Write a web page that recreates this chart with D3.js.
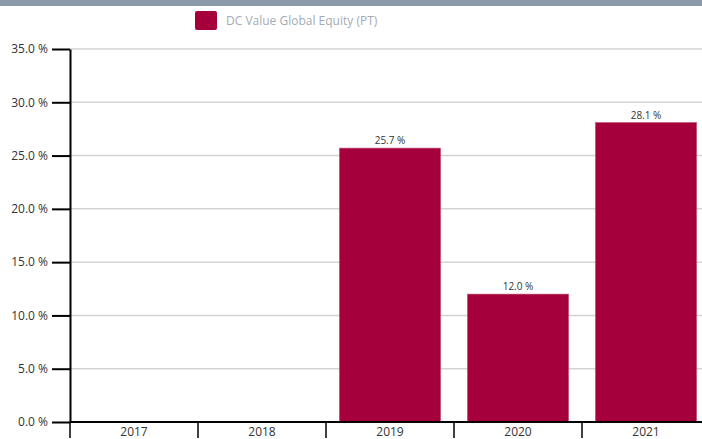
<!DOCTYPE html>
<html>
<head>
<meta charset="utf-8">
<script src="https://cdn.jsdelivr.net/npm/d3@7"></script>
<style>
  body { margin: 0; background: #fff; font-family: "Open Sans", sans-serif; }
</style>
</head>
<body>
<div id="chart"></div>
<script>
// Annual returns for one fund, bar per year
const years = ["2017", "2018", "2019", "2020", "2021"];
const returns = [null, null, 25.7, 12.0, 28.1];
const yTicks = [0, 5, 10, 15, 20, 25, 30, 35];
const seriesName = "DC Value Global Equity (PT)";

const width = 702;
const height = 439;
const margin = { top: 49, right: -8, bottom: 16, left: 70 };
const barColor = "#a5003b";

const svg = d3.select("#chart")
  .append("svg")
  .attr("width", width)
  .attr("height", height);

// grey strip along the top
svg.append("rect")
  .attr("x", 0).attr("y", 0)
  .attr("width", width).attr("height", 6)
  .attr("fill", "#8a9aa8");

// legend
const legend = svg.append("g").attr("transform", "translate(195,11)");
legend.append("rect")
  .attr("width", 22).attr("height", 19)
  .attr("rx", 2)
  .attr("fill", barColor);
legend.append("text")
  .attr("x", 31).attr("y", 14)
  .style("font-size", "12px")
  .attr("fill", "#a3acb5")
  .text(seriesName);

const innerW = width - margin.left - margin.right;
const innerH = height - margin.top - margin.bottom - 1;
const g = svg.append("g").attr("transform", `translate(${margin.left},${margin.top})`);

const x = d3.scaleBand()
  .domain(years)
  .range([0, innerW])
  .paddingInner(0.21)
  .paddingOuter(0.105);

const y = d3.scaleLinear()
  .domain([0, 35])
  .range([innerH, 0]);

// gridlines
g.selectAll(".grid")
  .data(yTicks.filter(t => t > 0))
  .join("line")
  .attr("x1", 0).attr("x2", innerW)
  .attr("y1", d => y(d)).attr("y2", d => y(d))
  .attr("stroke", "#d4d4d4")
  .attr("stroke-width", 1.5);

// bars
const data = years.map((yr, i) => ({ year: yr, value: returns[i] })).filter(d => d.value != null);
g.selectAll(".bar")
  .data(data)
  .join("rect")
  .attr("x", d => x(d.year))
  .attr("y", d => y(d.value))
  .attr("width", x.bandwidth())
  .attr("height", d => innerH - y(d.value))
  .attr("fill", barColor)
  .attr("stroke", "#c04a72")
  .attr("stroke-width", 0.6);

// value labels
g.selectAll(".value")
  .data(data)
  .join("text")
  .attr("x", d => x(d.year) + x.bandwidth() / 2)
  .attr("y", d => y(d.value) - 4)
  .attr("text-anchor", "middle")
  .style("font-size", "10px")
  .attr("fill", "#333")
  .text(d => d.value.toFixed(1) + " %");

// y axis
const yAxis = g.append("g")
  .call(d3.axisLeft(y).tickValues(yTicks).tickSize(18).tickSizeOuter(0)
    .tickFormat(d => d.toFixed(1) + " %"));
yAxis.select(".domain").attr("stroke", "#000").attr("stroke-width", 2);
yAxis.selectAll(".tick line").attr("stroke", "#000").attr("stroke-width", 2);
yAxis.selectAll(".tick text")
  .attr("x", -22)
  .style("font-family", "Open Sans, sans-serif")
  .style("font-size", "12px")
  .attr("fill", "#333");

// x axis with band boundary ticks
const xAxis = g.append("g").attr("transform", `translate(0,${innerH})`);
xAxis.append("line")
  .attr("x1", 0).attr("x2", innerW)
  .attr("stroke", "#000").attr("stroke-width", 2);
xAxis.selectAll(".sep")
  .data(years)
  .join("line")
  .attr("x1", d => x(d) - x.step() * x.paddingInner() / 2)
  .attr("x2", d => x(d) - x.step() * x.paddingInner() / 2)
  .attr("y1", 0).attr("y2", 16)
  .attr("stroke", "#000").attr("stroke-width", 1.5);
xAxis.selectAll(".lbl")
  .data(years)
  .join("text")
  .attr("x", d => x(d) + x.bandwidth() / 2)
  .attr("y", 14)
  .attr("text-anchor", "middle")
  .style("font-size", "12px")
  .attr("fill", "#333")
  .text(d => d);
</script>
</body>
</html>
